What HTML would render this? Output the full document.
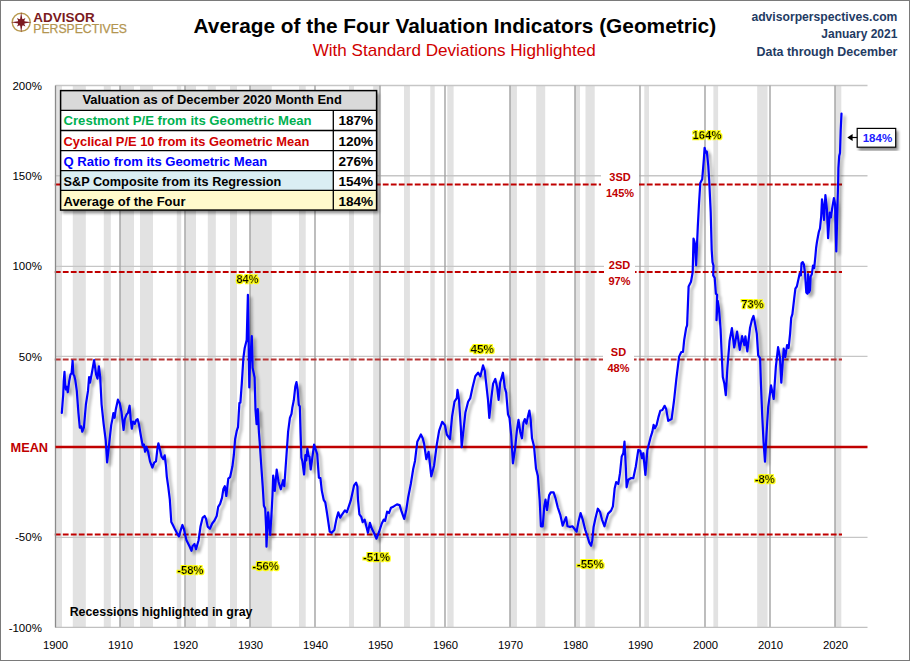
<!DOCTYPE html><html><head><meta charset="utf-8"><style>html,body{margin:0;padding:0;background:#fff;}svg{display:block;}text{font-family:"Liberation Sans",sans-serif;}</style></head><body>
<svg width="910" height="661" viewBox="0 0 910 661">
<defs><filter id="sh" x="-20%" y="-20%" width="140%" height="140%"><feGaussianBlur in="SourceAlpha" stdDeviation="1.6"/><feOffset dx="2.5" dy="2.5" result="b"/><feComponentTransfer><feFuncA type="linear" slope="0.35"/></feComponentTransfer><feMerge><feMergeNode/><feMergeNode in="SourceGraphic"/></feMerge></filter><filter id="tsh" x="-10%" y="-10%" width="130%" height="130%"><feGaussianBlur in="SourceAlpha" stdDeviation="1.5"/><feOffset dx="2" dy="2.5" result="b"/><feComponentTransfer><feFuncA type="linear" slope="0.45"/></feComponentTransfer><feMerge><feMergeNode/><feMergeNode in="SourceGraphic"/></feMerge></filter><filter id="glow" x="-30%" y="-50%" width="160%" height="200%"><feMorphology in="SourceAlpha" operator="dilate" radius="1.2" result="d"/><feGaussianBlur in="d" stdDeviation="0.55" result="g"/><feFlood flood-color="#ffff00"/><feComposite in2="g" operator="in" result="y"/><feMerge><feMergeNode in="y"/><feMergeNode in="SourceGraphic"/></feMerge></filter></defs>
<rect x="0" y="0" width="910" height="661" fill="#fff"/>
<rect x="0.5" y="0.5" width="909" height="660" fill="none" stroke="#7a7a7a" stroke-width="1"/>
<rect x="55" y="85.5" width="7.00" height="541.9" fill="#e2e2e2"/>
<rect x="72.8" y="85.5" width="13.00" height="541.9" fill="#e2e2e2"/>
<rect x="103.8" y="85.5" width="7.00" height="541.9" fill="#e2e2e2"/>
<rect x="120" y="85.5" width="14.00" height="541.9" fill="#e2e2e2"/>
<rect x="140" y="85.5" width="13.00" height="541.9" fill="#e2e2e2"/>
<rect x="176.8" y="85.5" width="4.40" height="541.9" fill="#e2e2e2"/>
<rect x="185.3" y="85.5" width="10.70" height="541.9" fill="#e2e2e2"/>
<rect x="207.8" y="85.5" width="8.00" height="541.9" fill="#e2e2e2"/>
<rect x="230" y="85.5" width="7.00" height="541.9" fill="#e2e2e2"/>
<rect x="250" y="85.5" width="21.80" height="541.9" fill="#e2e2e2"/>
<rect x="299" y="85.5" width="6.70" height="541.9" fill="#e2e2e2"/>
<rect x="349" y="85.5" width="5.00" height="541.9" fill="#e2e2e2"/>
<rect x="373.2" y="85.5" width="7.00" height="541.9" fill="#e2e2e2"/>
<rect x="404" y="85.5" width="5.90" height="541.9" fill="#e2e2e2"/>
<rect x="430.3" y="85.5" width="4.40" height="541.9" fill="#e2e2e2"/>
<rect x="447.3" y="85.5" width="6.30" height="541.9" fill="#e2e2e2"/>
<rect x="510" y="85.5" width="6.90" height="541.9" fill="#e2e2e2"/>
<rect x="536.2" y="85.5" width="9.00" height="541.9" fill="#e2e2e2"/>
<rect x="575" y="85.5" width="5.00" height="541.9" fill="#e2e2e2"/>
<rect x="585.5" y="85.5" width="9.20" height="541.9" fill="#e2e2e2"/>
<rect x="644.3" y="85.5" width="4.70" height="541.9" fill="#e2e2e2"/>
<rect x="713.4" y="85.5" width="4.70" height="541.9" fill="#e2e2e2"/>
<rect x="757.2" y="85.5" width="10.30" height="541.9" fill="#e2e2e2"/>
<rect x="835" y="85.5" width="6.30" height="541.9" fill="#e2e2e2"/>
<line x1="55.5" y1="85.5" x2="867.5" y2="85.5" stroke="#c6c6c6" stroke-width="1.4"/>
<line x1="55.5" y1="175.8" x2="867.5" y2="175.8" stroke="#c6c6c6" stroke-width="1.4"/>
<line x1="55.5" y1="266.4" x2="867.5" y2="266.4" stroke="#c6c6c6" stroke-width="1.4"/>
<line x1="55.5" y1="356.4" x2="867.5" y2="356.4" stroke="#c6c6c6" stroke-width="1.4"/>
<line x1="55.5" y1="537.4" x2="867.5" y2="537.4" stroke="#c6c6c6" stroke-width="1.4"/>
<line x1="120.0" y1="85.5" x2="120.0" y2="627.4" stroke="#a2a2a2" stroke-width="1.4"/>
<line x1="185.0" y1="85.5" x2="185.0" y2="627.4" stroke="#a2a2a2" stroke-width="1.4"/>
<line x1="250.0" y1="85.5" x2="250.0" y2="627.4" stroke="#a2a2a2" stroke-width="1.4"/>
<line x1="315.0" y1="85.5" x2="315.0" y2="627.4" stroke="#a2a2a2" stroke-width="1.4"/>
<line x1="380.0" y1="85.5" x2="380.0" y2="627.4" stroke="#a2a2a2" stroke-width="1.4"/>
<line x1="445.0" y1="85.5" x2="445.0" y2="627.4" stroke="#a2a2a2" stroke-width="1.4"/>
<line x1="510.0" y1="85.5" x2="510.0" y2="627.4" stroke="#a2a2a2" stroke-width="1.4"/>
<line x1="575.0" y1="85.5" x2="575.0" y2="627.4" stroke="#a2a2a2" stroke-width="1.4"/>
<line x1="640.0" y1="85.5" x2="640.0" y2="627.4" stroke="#a2a2a2" stroke-width="1.4"/>
<line x1="705.0" y1="85.5" x2="705.0" y2="627.4" stroke="#a2a2a2" stroke-width="1.4"/>
<line x1="770.0" y1="85.5" x2="770.0" y2="627.4" stroke="#a2a2a2" stroke-width="1.4"/>
<line x1="835.0" y1="85.5" x2="835.0" y2="627.4" stroke="#a2a2a2" stroke-width="1.4"/>
<line x1="55.5" y1="627.4" x2="867.5" y2="627.4" stroke="#c0c0c0" stroke-width="1.4"/>
<line x1="54.8" y1="184.50" x2="842" y2="184.50" stroke="#c00000" stroke-width="2.1" stroke-dasharray="5.8,2.2"/>
<line x1="54.8" y1="272.00" x2="842" y2="272.00" stroke="#c00000" stroke-width="2.1" stroke-dasharray="5.8,2.2"/>
<line x1="54.8" y1="359.45" x2="842" y2="359.45" stroke="#b83434" stroke-width="2.1" stroke-dasharray="5.8,2.2"/>
<line x1="54.8" y1="534.45" x2="842" y2="534.45" stroke="#c00000" stroke-width="2.1" stroke-dasharray="5.8,2.2"/>
<line x1="55.5" y1="85.5" x2="55.5" y2="627.4" stroke="#8a8a8a" stroke-width="1.3"/>
<line x1="55.5" y1="447" x2="867.5" y2="447" stroke="#c00000" stroke-width="2.4"/>
<rect x="601" y="170" width="38" height="29" fill="#fff"/>
<text x="620.0" y="180.8" text-anchor="middle" font-size="11" font-weight="bold" fill="#c00000">3SD</text>
<text x="620.0" y="196.7" text-anchor="middle" font-size="11" font-weight="bold" fill="#c00000">145%</text>
<rect x="604" y="258" width="31" height="30" fill="#fff"/>
<text x="619.5" y="269.1" text-anchor="middle" font-size="11" font-weight="bold" fill="#c00000">2SD</text>
<text x="619.5" y="285" text-anchor="middle" font-size="11" font-weight="bold" fill="#c00000">97%</text>
<rect x="603" y="345" width="31" height="30" fill="#fff"/>
<text x="618.5" y="356.3" text-anchor="middle" font-size="11" font-weight="bold" fill="#c00000">SD</text>
<text x="618.5" y="372" text-anchor="middle" font-size="11" font-weight="bold" fill="#c00000">48%</text>
<path d="M61.8,412.9 L63.2,395.0 L63.7,381.3 L64.5,371.8 L65.1,384.1 L65.9,389.5 L66.9,386.8 L67.8,392.2 L69.2,381.3 L70.5,374.5 L71.6,373.2 L72.6,360.9 L73.4,374.5 L74.3,375.9 L75.3,380.0 L76.8,390.9 L78.4,412.7 L79.8,427.7 L81.2,426.3 L82.3,431.7 L83.9,427.7 L85.9,404.5 L88.0,390.9 L89.1,377.2 L90.0,382.7 L92.1,371.8 L94.1,360.2 L96.1,374.5 L97.5,378.6 L98.9,366.3 L100.2,377.2 L101.6,404.5 L103.6,423.6 L105.7,440.0 L107.1,462.5 L108.9,446.2 L110.0,436.0 L111.2,425.1 L112.4,419.1 L113.4,413.0 L114.6,417.8 L115.8,409.4 L117.9,399.7 L119.7,403.3 L121.5,411.8 L123.6,430.0 L124.8,419.1 L126.7,414.2 L127.9,413.0 L129.6,405.7 L130.8,420.3 L131.8,428.7 L133.0,421.5 L134.8,423.9 L136.0,420.3 L137.6,419.1 L139.1,425.1 L140.9,436.0 L142.7,445.7 L143.9,444.5 L145.1,451.7 L146.3,446.9 L148.1,451.7 L150.0,461.4 L152.4,467.5 L154.2,462.6 L156.0,461.4 L157.5,448.1 L158.4,443.3 L159.6,448.1 L161.5,456.6 L163.3,459.0 L164.7,455.4 L165.9,465.1 L166.8,476.6 L168.3,487.2 L169.8,499.3 L171.3,522.0 L172.9,525.0 L175.1,529.6 L177.4,534.1 L178.9,536.4 L180.9,529.6 L182.4,525.0 L183.9,528.8 L185.0,534.1 L186.5,540.2 L188.0,543.2 L189.5,546.2 L191.5,550.8 L192.5,546.2 L194.5,544.0 L196.0,549.3 L198.6,540.2 L200.5,526.6 L202.7,517.5 L204.6,516.0 L206.1,519.0 L207.7,526.6 L209.9,528.8 L212.2,523.5 L214.5,520.5 L216.7,516.0 L218.2,506.9 L220.1,503.9 L222.0,497.9 L223.3,489.3 L224.8,486.2 L226.3,496.0 L228.3,478.7 L230.1,477.2 L232.4,466.6 L233.9,454.5 L235.1,439.3 L236.9,430.3 L238.0,427.2 L238.8,413.0 L239.4,403.1 L240.4,402.7 L241.8,383.4 L243.4,357.8 L244.7,348.0 L246.7,340.1 L247.9,294.8 L248.7,344.1 L249.3,387.4 L250.0,363.7 L251.8,336.2 L252.6,367.7 L254.6,377.5 L255.5,410.0 L256.6,424.2 L257.8,409.1 L258.9,431.8 L259.6,440.8 L261.1,463.5 L262.7,486.2 L263.9,505.8 L265.2,508.5 L266.1,527.0 L266.5,546.7 L267.5,523.0 L268.1,512.4 L270.1,534.9 L271.4,516.4 L272.5,495.0 L273.2,475.6 L274.8,490.8 L276.7,469.6 L278.5,481.7 L280.8,489.3 L283.1,480.2 L284.3,486.2 L286.1,460.5 L288.1,431.8 L289.9,418.0 L291.5,413.9 L292.3,407.8 L293.8,400.3 L295.3,386.6 L296.5,382.1 L297.6,389.7 L298.8,404.8 L299.8,406.3 L300.6,433.5 L301.4,457.7 L302.4,461.3 L304.1,474.5 L305.4,455.0 L306.3,460.4 L307.4,448.6 L308.6,455.9 L309.5,456.8 L310.7,469.5 L312.7,455.0 L314.1,444.5 L317.2,454.1 L318.9,477.7 L320.4,478.1 L321.8,490.6 L323.7,499.8 L325.3,502.4 L327.0,513.0 L329.7,531.5 L331.7,532.8 L334.3,530.1 L336.3,519.6 L338.3,512.3 L340.2,517.6 L342.2,514.3 L344.9,510.3 L346.8,512.3 L348.8,506.4 L350.8,500.4 L352.1,494.5 L354.1,485.3 L356.1,482.6 L357.4,486.6 L358.0,499.8 L359.4,514.3 L361.3,516.9 L362.7,522.2 L364.6,519.6 L366.0,524.9 L367.9,532.8 L369.9,522.9 L371.9,528.8 L373.9,532.8 L376.5,538.7 L379.2,531.5 L381.8,523.5 L383.8,519.6 L385.1,520.9 L387.1,511.7 L389.1,513.0 L391.0,507.7 L393.7,506.4 L397.0,504.4 L399.6,505.1 L401.6,511.7 L404.2,518.9 L406.2,510.3 L408.2,497.2 L410.8,484.0 L413.2,469.0 L415.0,460.9 L416.4,449.1 L417.3,441.8 L419.1,438.2 L420.9,434.5 L422.7,438.2 L424.1,443.6 L426.3,459.1 L428.6,451.8 L431.3,476.3 L434.1,465.4 L436.8,444.5 L439.1,430.9 L442.2,421.8 L445.0,425.4 L446.8,434.5 L450.0,439.1 L452.1,416.2 L454.5,401.7 L456.8,398.1 L457.5,389.9 L459.0,399.9 L460.8,427.1 L461.7,447.1 L463.0,434.4 L465.4,412.6 L468.1,401.7 L470.3,398.1 L472.6,387.2 L475.3,376.3 L478.1,372.7 L480.4,376.3 L483.0,365.4 L484.8,370.9 L486.2,383.6 L488.0,399.9 L489.3,418.0 L491.1,399.9 L493.1,383.6 L495.3,379.0 L497.1,387.2 L498.6,399.9 L500.2,382.6 L502.9,372.7 L504.7,387.2 L506.2,392.6 L508.0,414.4 L509.5,418.0 L511.3,436.2 L512.9,463.3 L514.9,450.1 L516.9,430.3 L518.5,419.8 L520.2,431.7 L521.9,438.3 L523.5,422.4 L524.8,419.1 L526.4,423.7 L528.1,415.8 L529.4,410.6 L530.7,419.8 L532.0,438.3 L534.0,446.2 L536.0,468.6 L537.9,476.1 L539.7,500.3 L540.9,526.3 L542.7,526.3 L544.3,506.3 L545.5,499.7 L547.0,510.0 L549.1,495.4 L550.8,492.4 L553.6,492.4 L555.4,497.8 L557.8,507.5 L560.3,514.8 L562.7,525.7 L564.5,520.8 L566.1,517.2 L567.5,526.3 L570.0,526.9 L572.4,526.3 L574.8,529.3 L576.6,531.7 L578.4,522.1 L580.6,513.0 L582.7,519.6 L585.1,529.3 L587.5,536.6 L589.3,542.6 L591.1,545.7 L592.3,540.2 L593.6,526.9 L595.4,518.4 L597.8,508.7 L600.0,511.8 L602.0,519.6 L604.5,526.3 L606.3,519.6 L608.1,513.6 L611.1,510.6 L612.9,506.3 L614.7,488.2 L616.2,482.1 L618.3,484.0 L620.0,473.2 L621.7,456.5 L623.3,453.2 L624.5,441.6 L625.8,466.5 L626.6,487.3 L628.3,479.8 L630.8,478.2 L633.3,478.2 L635.8,466.5 L638.3,449.9 L640.3,450.7 L642.0,458.2 L643.3,453.2 L645.4,474.8 L647.4,449.9 L649.1,443.2 L650.8,436.6 L652.4,431.6 L653.6,424.9 L654.9,428.3 L656.6,424.9 L658.6,416.6 L660.3,410.8 L662.4,410.0 L664.6,405.8 L666.2,409.1 L668.2,420.8 L671.6,419.1 L674.1,400.0 L676.3,379.3 L679.1,356.6 L681.3,352.0 L683.0,352.0 L684.2,339.9 L686.2,327.8 L687.1,325.4 L688.6,286.6 L691.0,281.8 L692.7,272.1 L693.5,238.6 L694.9,243.5 L696.1,265.3 L697.8,226.5 L699.1,202.3 L700.3,183.0 L702.2,179.3 L703.9,158.7 L704.6,147.8 L705.8,152.7 L706.8,151.5 L708.3,166.0 L709.2,180.5 L710.7,212.0 L711.7,250.0 L712.5,262.1 L713.5,265.7 L713.2,275.4 L714.7,277.8 L715.9,293.6 L717.1,294.8 L716.5,320.2 L717.7,300.8 L718.9,308.1 L720.1,322.6 L720.6,329.4 L721.7,354.3 L722.8,377.0 L724.4,383.8 L725.8,395.1 L727.4,367.9 L729.6,340.7 L731.9,328.2 L734.2,347.5 L737.1,331.6 L739.8,349.8 L742.1,336.2 L744.4,345.2 L745.4,336.3 L747.3,351.3 L750.0,328.1 L751.9,320.0 L753.5,315.9 L755.4,325.4 L756.8,333.6 L758.2,355.4 L760.1,358.1 L760.9,382.6 L762.2,415.3 L763.6,442.6 L765.0,461.7 L766.3,437.1 L768.2,407.2 L771.0,385.4 L773.7,399.0 L775.9,366.3 L778.1,347.2 L780.0,358.1 L781.3,382.6 L783.7,348.7 L785.3,357.1 L787.1,345.0 L788.6,348.0 L790.1,333.6 L791.2,317.8 L792.4,314.2 L794.2,298.4 L795.4,288.7 L796.9,286.3 L798.5,279.1 L799.7,273.6 L800.9,275.4 L801.5,263.3 L802.7,262.1 L803.9,264.5 L805.1,274.2 L806.3,292.4 L807.5,293.6 L808.1,274.2 L809.0,292.4 L810.0,290.0 L810.6,276.6 L811.8,274.2 L813.0,265.7 L814.2,268.2 L815.4,256.0 L816.1,248.0 L817.0,241.7 L818.8,232.0 L820.0,228.4 L821.2,216.3 L822.0,199.4 L823.0,206.6 L824.0,220.0 L825.4,195.1 L826.9,209.0 L828.1,238.1 L829.7,212.7 L830.9,217.5 L832.1,209.0 L833.9,198.2 L835.1,204.2 L835.7,232.0 L836.3,251.4 L837.5,204.2 L838.2,180.0 L838.4,168.1 L839.2,156.0 L840.0,153.0 L840.7,130.3 L841.5,113.6" fill="none" stroke="#0000ff" stroke-width="2.2" stroke-linejoin="round" stroke-linecap="round" filter="url(#sh)"/>
<text x="236.5" y="283.3" textLength="22.0" lengthAdjust="spacingAndGlyphs" font-size="11.6" font-weight="bold" fill="#000" stroke="#000" stroke-width="0.25" filter="url(#glow)">84%</text>
<text x="177.3" y="573.7" textLength="26.3" lengthAdjust="spacingAndGlyphs" font-size="11.6" font-weight="bold" fill="#000" stroke="#000" stroke-width="0.25" filter="url(#glow)">-58%</text>
<text x="252.5" y="570" textLength="26.3" lengthAdjust="spacingAndGlyphs" font-size="11.6" font-weight="bold" fill="#000" stroke="#000" stroke-width="0.25" filter="url(#glow)">-56%</text>
<text x="362.9" y="561.1" textLength="27.1" lengthAdjust="spacingAndGlyphs" font-size="11.6" font-weight="bold" fill="#000" stroke="#000" stroke-width="0.25" filter="url(#glow)">-51%</text>
<text x="470.5" y="352.5" textLength="23.5" lengthAdjust="spacingAndGlyphs" font-size="11.6" font-weight="bold" fill="#000" stroke="#000" stroke-width="0.25" filter="url(#glow)">45%</text>
<text x="576.8" y="567.9" textLength="27.0" lengthAdjust="spacingAndGlyphs" font-size="11.6" font-weight="bold" fill="#000" stroke="#000" stroke-width="0.25" filter="url(#glow)">-55%</text>
<text x="692.5" y="138.6" textLength="29.0" lengthAdjust="spacingAndGlyphs" font-size="11.6" font-weight="bold" fill="#000" stroke="#000" stroke-width="0.25" filter="url(#glow)">164%</text>
<text x="741.3" y="307.9" textLength="22.4" lengthAdjust="spacingAndGlyphs" font-size="11.6" font-weight="bold" fill="#000" stroke="#000" stroke-width="0.25" filter="url(#glow)">73%</text>
<text x="754.8" y="482.8" textLength="20.1" lengthAdjust="spacingAndGlyphs" font-size="11.6" font-weight="bold" fill="#000" stroke="#000" stroke-width="0.25" filter="url(#glow)">-8%</text>
<text x="41.9" y="89.7" text-anchor="end" font-size="11.5" fill="#000">200%</text>
<text x="41.9" y="180.0" text-anchor="end" font-size="11.5" fill="#000">150%</text>
<text x="41.9" y="270.3" text-anchor="end" font-size="11.5" fill="#000">100%</text>
<text x="41.9" y="360.6" text-anchor="end" font-size="11.5" fill="#000">50%</text>
<text x="41.9" y="541.2" text-anchor="end" font-size="11.5" fill="#000">-50%</text>
<text x="41.9" y="631.5" text-anchor="end" font-size="11.5" fill="#000">-100%</text>
<text x="10.5" y="451.9" textLength="37.6" lengthAdjust="spacingAndGlyphs" font-size="13" font-weight="bold" fill="#c00000">MEAN</text>
<text x="55.6" y="648.9" text-anchor="middle" font-size="11.3" fill="#000">1900</text>
<text x="120.6" y="648.9" text-anchor="middle" font-size="11.3" fill="#000">1910</text>
<text x="185.6" y="648.9" text-anchor="middle" font-size="11.3" fill="#000">1920</text>
<text x="250.6" y="648.9" text-anchor="middle" font-size="11.3" fill="#000">1930</text>
<text x="315.6" y="648.9" text-anchor="middle" font-size="11.3" fill="#000">1940</text>
<text x="380.6" y="648.9" text-anchor="middle" font-size="11.3" fill="#000">1950</text>
<text x="445.6" y="648.9" text-anchor="middle" font-size="11.3" fill="#000">1960</text>
<text x="510.6" y="648.9" text-anchor="middle" font-size="11.3" fill="#000">1970</text>
<text x="575.6" y="648.9" text-anchor="middle" font-size="11.3" fill="#000">1980</text>
<text x="640.6" y="648.9" text-anchor="middle" font-size="11.3" fill="#000">1990</text>
<text x="705.6" y="648.9" text-anchor="middle" font-size="11.3" fill="#000">2000</text>
<text x="770.6" y="648.9" text-anchor="middle" font-size="11.3" fill="#000">2010</text>
<text x="835.6" y="648.9" text-anchor="middle" font-size="11.3" fill="#000">2020</text>
<text x="69.7" y="615.7" textLength="182.8" lengthAdjust="spacingAndGlyphs" font-size="12.8" font-weight="bold" fill="#000">Recessions highlighted in gray</text>
<text x="193.6" y="32.7" textLength="522.5" lengthAdjust="spacingAndGlyphs" font-size="21" font-weight="bold" fill="#000">Average of the Four Valuation Indicators (Geometric)</text>
<text x="312.7" y="56.4" textLength="283.1" lengthAdjust="spacingAndGlyphs" font-size="17" fill="#d00000">With Standard Deviations Highlighted</text>
<text x="751.4" y="20.6" textLength="146" lengthAdjust="spacingAndGlyphs" font-size="13" font-weight="bold" fill="#1f3b63">advisorperspectives.com</text>
<text x="821.3" y="37.6" textLength="76.1" lengthAdjust="spacingAndGlyphs" font-size="12.6" font-weight="bold" fill="#1f3b63">January 2021</text>
<text x="756.6" y="55.6" textLength="140.8" lengthAdjust="spacingAndGlyphs" font-size="12.6" font-weight="bold" fill="#1f3b63">Data through December</text>
<circle cx="21.2" cy="22.3" r="9" fill="none" stroke="#b8994e" stroke-width="1.4"/>
<polygon points="21.20,12.00 22.35,19.53 25.44,18.06 23.97,21.15 31.50,22.30 23.97,23.45 25.44,26.54 22.35,25.07 21.20,32.60 20.05,25.07 16.96,26.54 18.43,23.45 10.90,22.30 18.43,21.15 16.96,18.06 20.05,19.53" fill="#7b1a20"/>
<circle cx="21.2" cy="22.3" r="3.4" fill="#7b1a20"/>
<text x="33.3" y="21.5" textLength="61.3" lengthAdjust="spacingAndGlyphs" font-size="13.6" font-weight="bold" fill="#7b1a20">ADVISOR</text>
<text x="33.3" y="32.7" textLength="93.7" lengthAdjust="spacingAndGlyphs" font-size="13" fill="#b39550" stroke="#b39550" stroke-width="0.25">PERSPECTIVES</text>
<g filter="url(#tsh)">
<rect x="60.6" y="90.6" width="316.0" height="119.5" fill="#fff"/>
<rect x="60.6" y="90.6" width="316.0" height="19.80000000000001" fill="#d9d9d9"/>
<rect x="60.6" y="170.6" width="272.7" height="19.80000000000001" fill="#daeef3"/>
<rect x="60.6" y="190.4" width="316.0" height="19.69999999999999" fill="#fffacc"/>
</g>
<line x1="60.6" y1="110.4" x2="376.6" y2="110.4" stroke="#000" stroke-width="1.3"/>
<line x1="60.6" y1="130.5" x2="376.6" y2="130.5" stroke="#000" stroke-width="1.3"/>
<line x1="60.6" y1="150.6" x2="376.6" y2="150.6" stroke="#000" stroke-width="1.3"/>
<line x1="60.6" y1="170.6" x2="376.6" y2="170.6" stroke="#000" stroke-width="1.3"/>
<line x1="60.6" y1="190.4" x2="376.6" y2="190.4" stroke="#000" stroke-width="1.3"/>
<line x1="333.3" y1="110.4" x2="333.3" y2="210.1" stroke="#000" stroke-width="1.3"/>
<rect x="60.6" y="90.6" width="316.0" height="119.5" fill="none" stroke="#000" stroke-width="1.5"/>
<text x="82.4" y="104.4" textLength="259.4" lengthAdjust="spacingAndGlyphs" font-size="12.3" font-weight="bold" fill="#000">Valuation as of December 2020  Month End</text>
<text x="63.5" y="125.3" textLength="248.0" lengthAdjust="spacingAndGlyphs" font-size="12.6" font-weight="bold" fill="#00b050">Crestmont P/E from its Geometric Mean</text>
<text x="338.4" y="125.3" textLength="34.8" lengthAdjust="spacingAndGlyphs" font-size="12.6" font-weight="bold" fill="#000">187%</text>
<text x="63.5" y="145.6" textLength="245.8" lengthAdjust="spacingAndGlyphs" font-size="12.6" font-weight="bold" fill="#d00000">Cyclical P/E 10 from its Geometric Mean</text>
<text x="338.4" y="145.6" textLength="34.8" lengthAdjust="spacingAndGlyphs" font-size="12.6" font-weight="bold" fill="#000">120%</text>
<text x="63.5" y="165.7" textLength="203.7" lengthAdjust="spacingAndGlyphs" font-size="12.6" font-weight="bold" fill="#0000ff">Q Ratio from its Geometric Mean</text>
<text x="338.4" y="165.7" textLength="34.8" lengthAdjust="spacingAndGlyphs" font-size="12.6" font-weight="bold" fill="#000">276%</text>
<text x="63.5" y="185.5" textLength="217.8" lengthAdjust="spacingAndGlyphs" font-size="12.6" font-weight="bold" fill="#000">S&amp;P Composite from its Regression</text>
<text x="338.4" y="185.5" textLength="34.8" lengthAdjust="spacingAndGlyphs" font-size="12.6" font-weight="bold" fill="#000">154%</text>
<text x="63.5" y="205.8" textLength="122.0" lengthAdjust="spacingAndGlyphs" font-size="12.6" font-weight="bold" fill="#000">Average of the Four</text>
<text x="338.4" y="205.8" textLength="34.8" lengthAdjust="spacingAndGlyphs" font-size="12.6" font-weight="bold" fill="#000">184%</text>
<g filter="url(#tsh)"><rect x="857.2" y="128.4" width="38.5" height="18.8" fill="#fff" stroke="#000" stroke-width="1.2"/></g>
<text x="862.7" y="142" textLength="29.5" lengthAdjust="spacingAndGlyphs" font-size="11.6" font-weight="bold" fill="#2020ff">184%</text>
<line x1="851" y1="137.5" x2="857.2" y2="137.5" stroke="#000" stroke-width="1.2"/>
<polygon points="847.3,137.5 852.6,134 852.6,141" fill="#000"/>
</svg></body></html>
